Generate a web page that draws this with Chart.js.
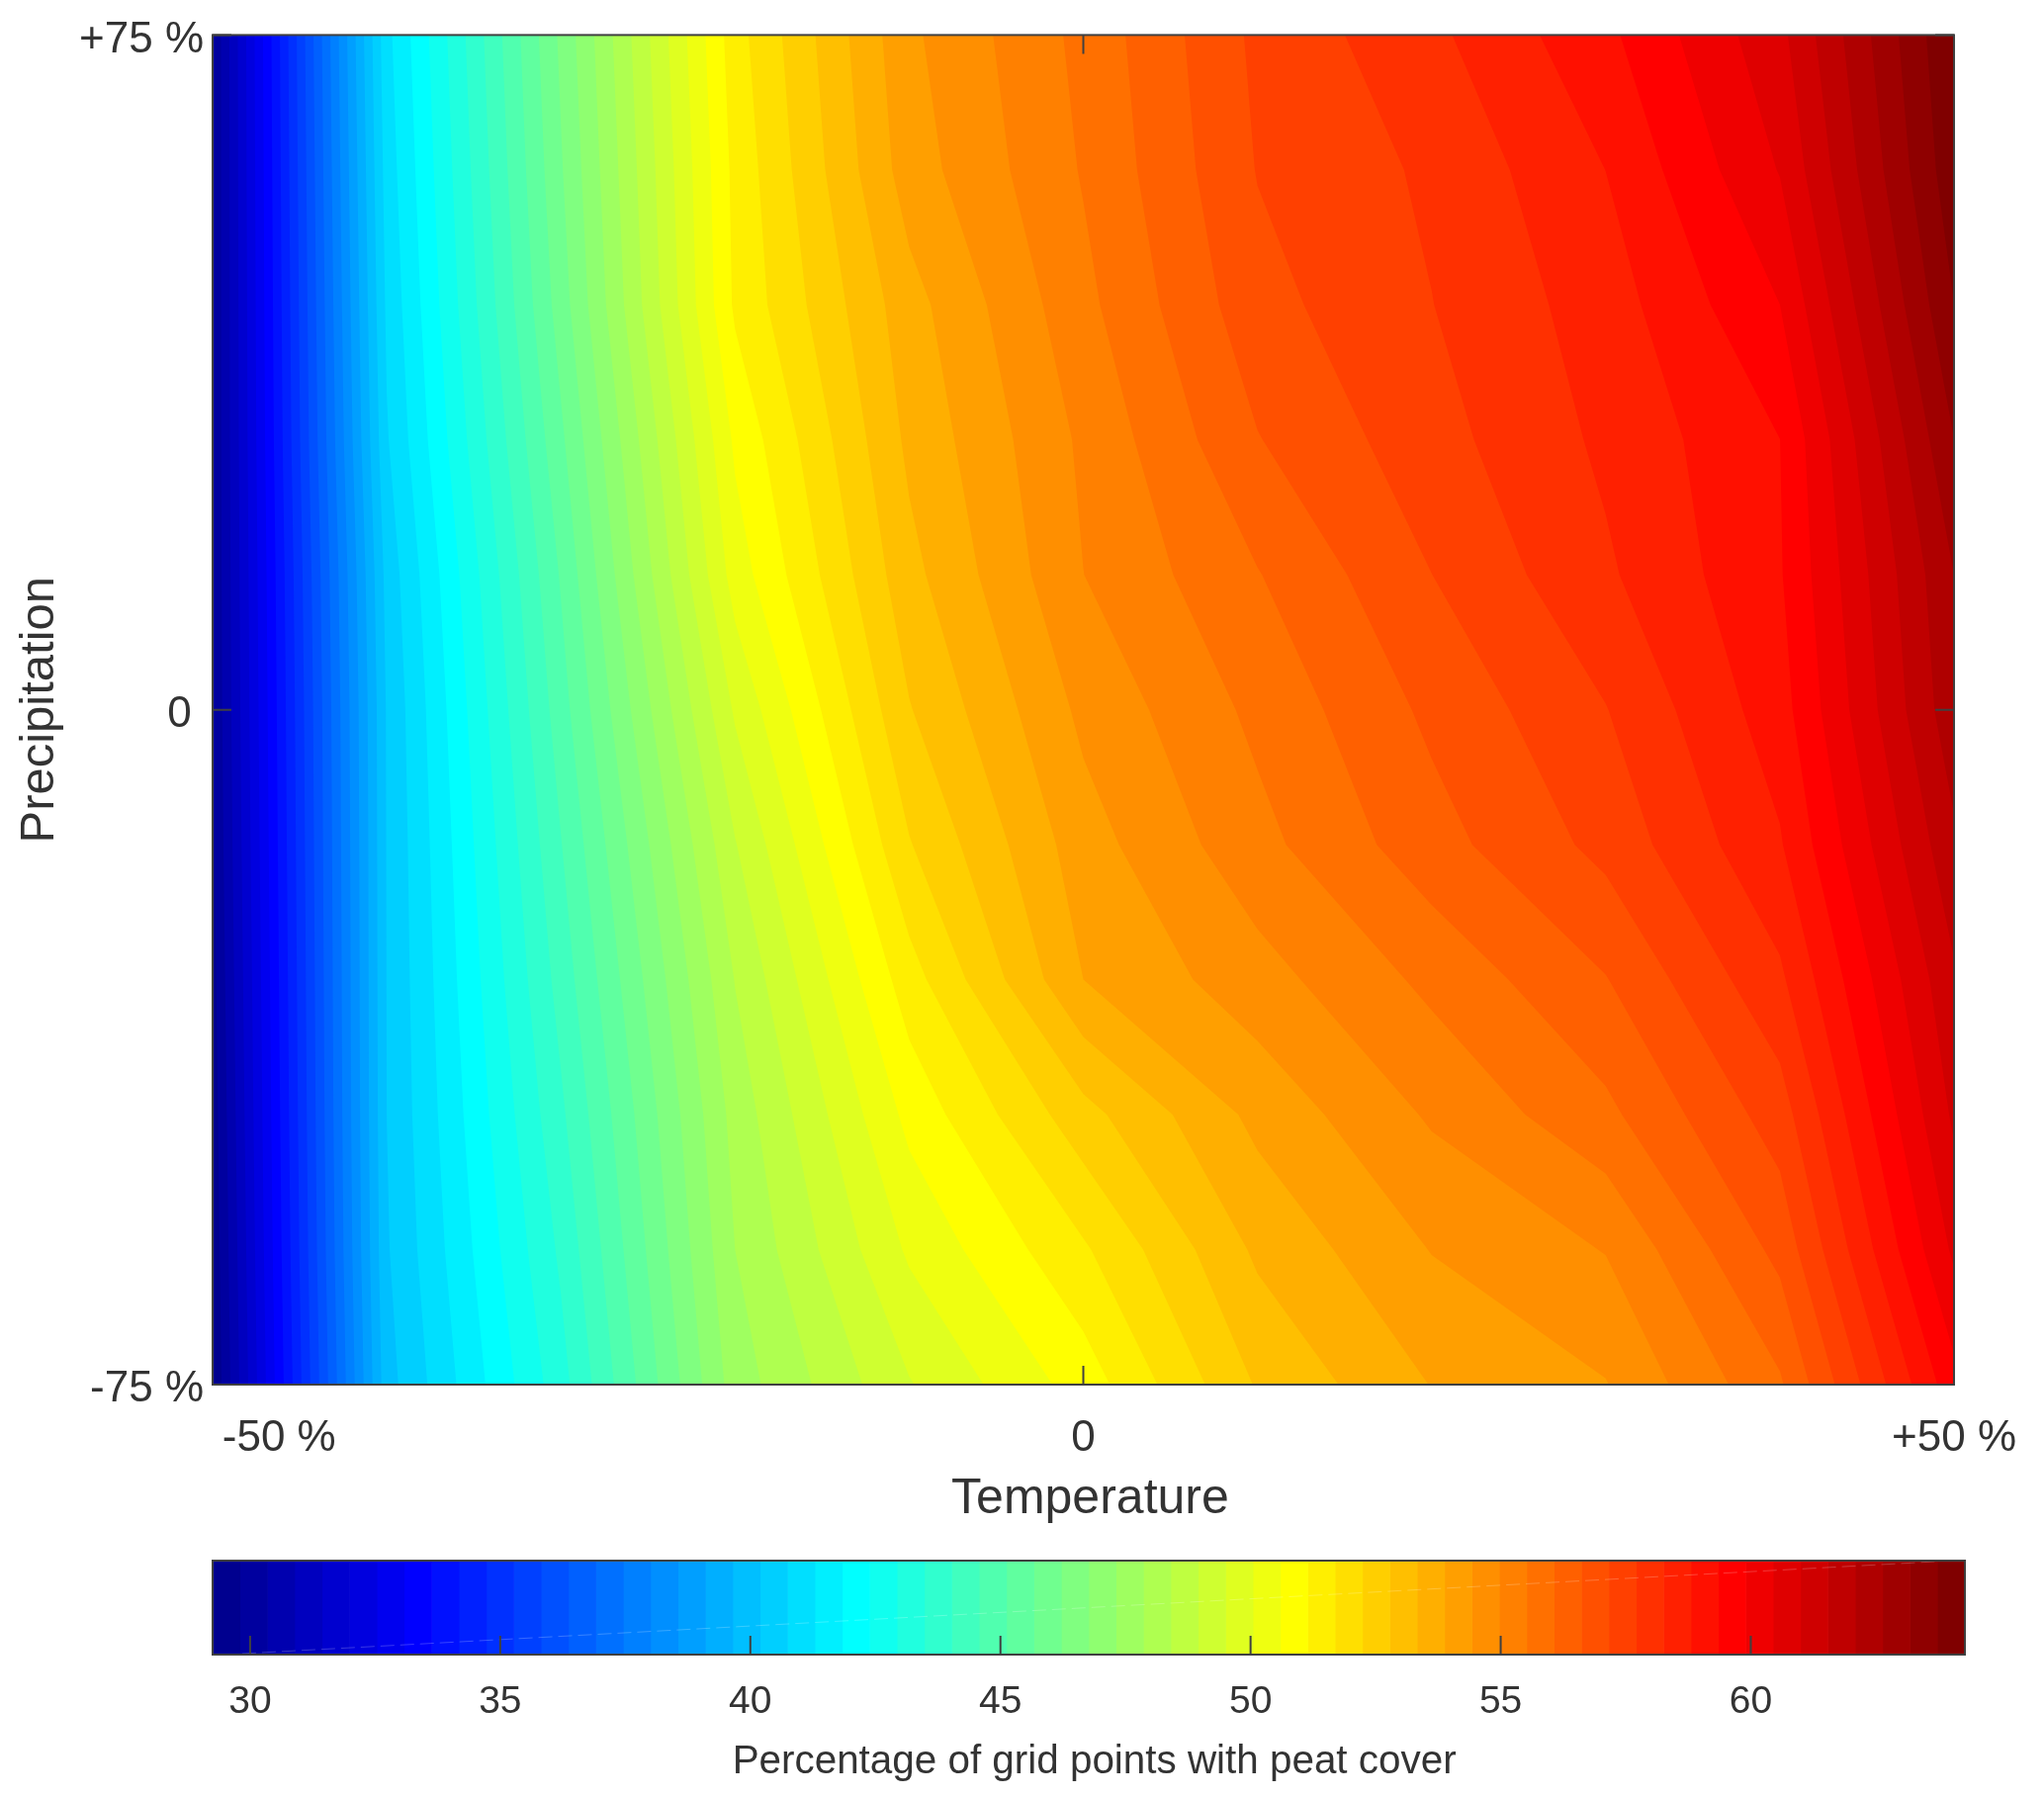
<!DOCTYPE html>
<html>
<head>
<meta charset="utf-8">
<title>Peat cover</title>
<script src="https://cdn.jsdelivr.net/npm/chart.js@4"></script>
<style>
  body { margin: 0; background: #fff; }
  canvas { position: absolute; left: 0; }
  #mainChart { top: 0; }
  #barChart { top: 1560px; }
</style>
</head>
<body>
<canvas id="mainChart" width="2067" height="1560"></canvas>
<canvas id="barChart" width="2067" height="257"></canvas>
<script>
// Axes of the grid
const temperature = [-50, -40, -30, -20, -10, 0, 10, 20, 30, 40, 50];
const precipitation = [75, 60, 45, 30, 15, 0, -15, -30, -45, -60, -75];

// Percentage of grid points with peat cover, one array per precipitation row
const peatP75 = [29.80, 41.13, 46.33, 51.47, 54.32, 55.68, 57.29, 58.13, 59.22, 60.84, 64.28];
const peatP60 = [29.80, 40.99, 46.16, 51.31, 54.16, 55.57, 57.19, 57.81, 58.81, 60.48, 64.11];
const peatP45 = [29.80, 40.85, 45.94, 51.24, 53.67, 55.37, 56.97, 57.70, 58.53, 59.90, 63.73];
const peatP30 = [29.80, 40.69, 45.56, 50.70, 53.46, 55.08, 56.59, 57.50, 58.37, 59.35, 63.18];
const peatP15 = [29.80, 40.39, 45.18, 50.30, 53.16, 54.97, 56.04, 57.16, 58.17, 59.30, 62.64];
const peatP0 = [29.77, 40.25, 44.88, 49.58, 52.75, 54.56, 55.66, 56.74, 57.69, 59.11, 62.47];
const peatM15 = [29.69, 40.22, 44.55, 48.92, 52.20, 54.19, 55.35, 56.40, 57.33, 58.75, 61.98];
const peatM30 = [29.58, 40.21, 44.25, 48.43, 51.45, 53.88, 54.75, 55.66, 56.59, 58.15, 61.46];
const peatM45 = [29.47, 40.20, 43.92, 48.07, 50.76, 52.59, 54.04, 55.05, 55.93, 57.44, 61.10];
const peatM60 = [29.36, 40.14, 43.59, 47.86, 50.14, 51.61, 53.44, 54.45, 55.00, 56.78, 60.56];
const peatM75 = [29.25, 39.98, 43.26, 47.58, 49.46, 50.84, 52.84, 53.90, 54.40, 55.99, 59.71];
const peatGrid = [peatP75, peatP60, peatP45, peatP30, peatP15, peatP0, peatM15, peatM30, peatM45, peatM60, peatM75];

// Ticks
const tempTicks = [-50, 0, 50];
const tempTickLabels = ['-50 %', '0', '+50 %'];
const precipTicks = [-75, 0, 75];
const precipTickLabels = ['-75 %', '0', '+75 %'];
const colorbarTicks = [30, 35, 40, 45, 50, 55, 60];

const colorbarMin = 29.25;
const colorbarMax = 64.28;
const bandCount = 64;

const fontFamily = '"Liberation Sans", Arial, sans-serif';
const textColor = '#333333';
const frameColor = '#404040';

// jet colormap, k from 1 to 64
function jet(k) {
  const c = v => Math.round(255 * Math.max(0, Math.min(1, v)));
  const r = c(Math.min((k - 24) / 16, (72 - k) / 16));
  const g = c(Math.min((k - 8) / 16, (56 - k) / 16));
  const b = c(Math.min((k + 8) / 16, (40 - k) / 16));
  return `rgb(${r},${g},${b})`;
}

// Edge of the area where the grid is >= level, walking from top to bottom
function contourFor(level) {
  const pts = [];
  const last = temperature.length - 1;

  peatGrid.forEach((row, r) => {
    if (row[0] >= level) {
      pts.push({ x: temperature[0], y: precipitation[r] });
    } else if (row[last] < level) {
      pts.push({ x: temperature[last], y: precipitation[r] });
    } else {
      for (let c = 0; c < last; c++) {
        if (row[c] < level && row[c + 1] >= level) {
          const t = (level - row[c]) / (row[c + 1] - row[c]);
          pts.push({ x: temperature[c] + t * (temperature[c + 1] - temperature[c]), y: precipitation[r] });
          break;
        }
      }
    }
  });

  temperature.forEach((temp, c) => {
    for (let r = 0; r < precipitation.length - 1; r++) {
      const a = peatGrid[r][c];
      const b = peatGrid[r + 1][c];
      if ((a - level) * (b - level) < 0) {
        const t = (level - a) / (b - a);
        pts.push({ x: temp, y: precipitation[r] + t * (precipitation[r + 1] - precipitation[r]) });
      }
    }
  });

  pts.sort((p, q) => q.y - p.y);
  return pts;
}

// Frame and the small ticks pointing inwards
const axisBox = {
  id: 'axisBox',
  afterDatasetsDraw(chart, args, opts) {
    const { ctx, chartArea: area, scales } = chart;
    ctx.save();
    if (opts.seam) {
      ctx.strokeStyle = 'rgba(255,255,255,0.22)';
      ctx.lineWidth = 1;
      ctx.setLineDash([14, 6]);
      ctx.beginPath();
      ctx.moveTo(area.left + 30, area.bottom - 1);
      ctx.lineTo(area.right - 30, area.top + 1);
      ctx.stroke();
      ctx.setLineDash([]);
    }
    ctx.strokeStyle = frameColor;
    ctx.lineWidth = 2;
    ctx.beginPath();
    scales.x.ticks.forEach(t => {
      const px = scales.x.getPixelForValue(t.value);
      ctx.moveTo(px, area.bottom);
      ctx.lineTo(px, area.bottom - opts.tickLength);
      if (opts.allSides) {
        ctx.moveTo(px, area.top);
        ctx.lineTo(px, area.top + opts.tickLength);
      }
    });
    if (opts.allSides) {
      scales.y.ticks.forEach(t => {
        const py = scales.y.getPixelForValue(t.value);
        ctx.moveTo(area.left, py);
        ctx.lineTo(area.left + opts.tickLength, py);
        ctx.moveTo(area.right, py);
        ctx.lineTo(area.right - opts.tickLength, py);
      });
    }
    ctx.stroke();
    ctx.strokeRect(area.left, area.top, area.right - area.left, area.bottom - area.top);
    ctx.restore();
  }
};

// Filled bands, highest level first because the first dataset is painted last
const bandDatasets = [];
for (let k = bandCount; k >= 1; k--) {
  const level = colorbarMin + (k - 1) * (colorbarMax - colorbarMin) / bandCount;
  const edge = contourFor(level);
  bandDatasets.push({
    data: [...edge, { x: 50, y: -75 }, { x: 50, y: 75 }],
    showLine: true,
    fill: 'shape',
    backgroundColor: jet(k),
    borderWidth: 0,
    pointRadius: 0,
    tension: 0
  });
}

new Chart(document.getElementById('mainChart'), {
  type: 'scatter',
  data: { datasets: bandDatasets },
  plugins: [axisBox],
  options: {
    responsive: false,
    animation: false,
    events: [],
    layout: { padding: { top: 24, right: 82, left: 0, bottom: 0 } },
    plugins: {
      legend: { display: false },
      tooltip: { enabled: false },
      axisBox: { tickLength: 19, allSides: true }
    },
    scales: {
      x: {
        type: 'linear',
        min: -50,
        max: 50,
        grid: { display: false, drawTicks: false },
        border: { display: false },
        afterBuildTicks: s => { s.ticks = tempTicks.map(v => ({ value: v })); },
        afterFit: s => { s.height = 160; },
        ticks: {
          autoSkip: false,
          maxRotation: 0,
          minRotation: 0,
          padding: 28,
          color: textColor,
          font: { family: fontFamily, size: 44 },
          // the first label sits to the right of its tick
          callback: (v, i) => (i === 0 ? ' '.repeat(11) : '') + tempTickLabels[i]
        },
        title: {
          display: true,
          text: ' Temperature',
          color: textColor,
          font: { family: fontFamily, size: 50 },
          padding: { top: 0, bottom: 14 }
        }
      },
      y: {
        type: 'linear',
        min: -75,
        max: 75,
        grid: { display: false, drawTicks: false },
        border: { display: false },
        afterBuildTicks: s => { s.ticks = precipTicks.map(v => ({ value: v })); },
        afterFit: s => { s.width = 215; },
        ticks: {
          autoSkip: false,
          padding: 9,
          labelOffset: 5,
          color: textColor,
          font: { family: fontFamily, size: 44 },
          callback: (v, i) => precipTickLabels[i] + (v === 0 ? ' ' : '')
        },
        title: {
          display: true,
          text: 'Precipitation',
          color: textColor,
          font: { family: fontFamily, size: 49 },
          padding: { top: 11, bottom: 0 }
        }
      }
    }
  }
});

// Colour bar
const barDatasets = [];
for (let k = 1; k <= bandCount; k++) {
  const step = (colorbarMax - colorbarMin) / bandCount;
  barDatasets.push({
    data: [[colorbarMin + (k - 1) * step, colorbarMin + k * step]],
    backgroundColor: jet(k),
    borderWidth: 0,
    barPercentage: 1,
    categoryPercentage: 1,
    grouped: false
  });
}

new Chart(document.getElementById('barChart'), {
  type: 'bar',
  data: { labels: ['peat'], datasets: barDatasets },
  plugins: [axisBox],
  options: {
    indexAxis: 'y',
    responsive: false,
    animation: false,
    events: [],
    layout: { padding: { top: 18, right: 80, left: 215, bottom: 0 } },
    plugins: {
      legend: { display: false },
      tooltip: { enabled: false },
      axisBox: { tickLength: 19, allSides: false, seam: true }
    },
    scales: {
      x: {
        type: 'linear',
        min: colorbarMin,
        max: colorbarMax,
        grid: { display: false, drawTicks: false },
        border: { display: false },
        afterBuildTicks: s => { s.ticks = colorbarTicks.map(v => ({ value: v })); },
        afterFit: s => { s.height = 144; },
        ticks: {
          autoSkip: false,
          maxRotation: 0,
          minRotation: 0,
          padding: 25,
          color: textColor,
          font: { family: fontFamily, size: 39 }
        },
        title: {
          display: true,
          text: ' Percentage of grid points with peat cover',
          color: textColor,
          font: { family: fontFamily, size: 40.4 },
          padding: { top: 0, bottom: 11 }
        }
      },
      y: { display: false }
    }
  }
});
</script>
</body>
</html>
